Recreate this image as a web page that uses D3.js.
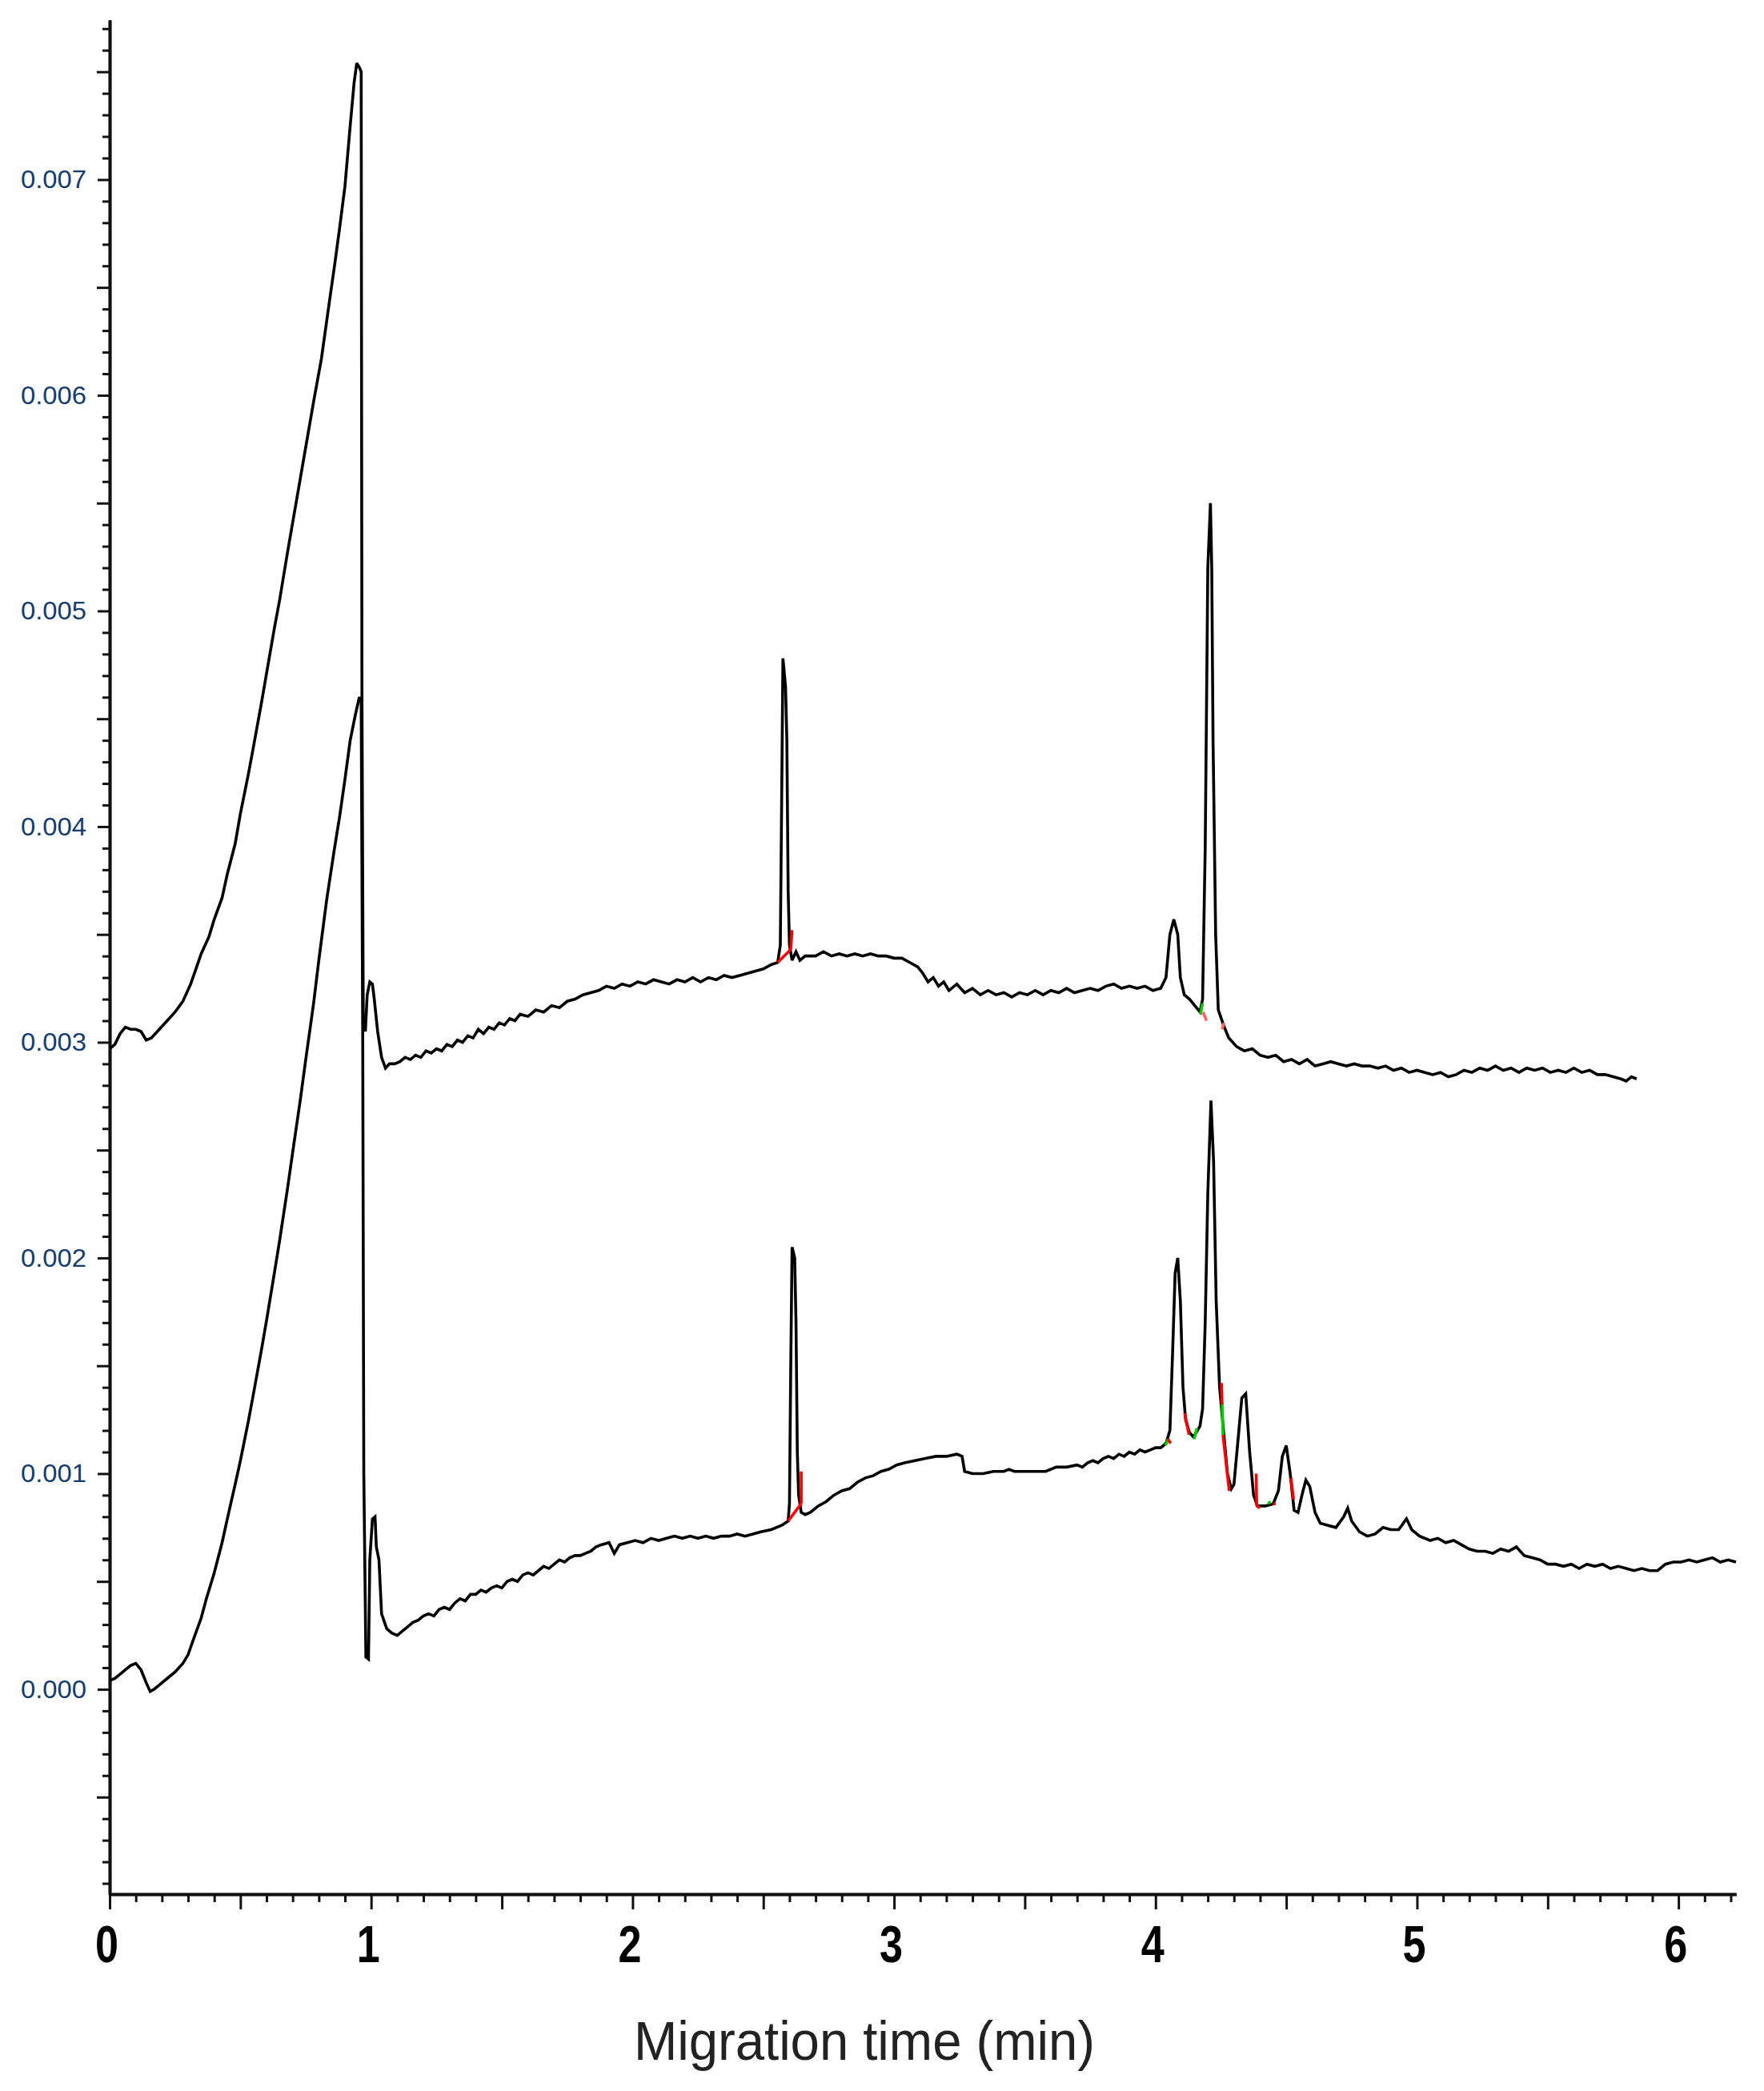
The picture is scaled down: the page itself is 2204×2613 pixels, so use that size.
<!DOCTYPE html>
<html>
<head>
<meta charset="utf-8">
<script src="https://cdn.jsdelivr.net/npm/d3@7"></script>
<style>
  html, body { margin: 0; padding: 0; background: #fff; }
  svg { display: block; }
</style>
</head>
<body>
<svg id="chart" width="2204" height="2613"></svg>
<script>
// ---------------- data (migration time in min, absorbance) ----------------
const upperTrace = [
[0.00,0.00297],[0.02,0.00299],[0.04,0.00304],[0.06,0.00307],[0.08,0.00306],[0.10,0.00306],[0.12,0.00305],
[0.14,0.00301],[0.16,0.00302],[0.19,0.00306],[0.22,0.00310],[0.25,0.00314],[0.28,0.00319],[0.31,0.00327],
[0.33,0.00334],[0.35,0.00341],[0.38,0.00349],[0.40,0.00357],[0.43,0.00367],[0.45,0.00378],[0.48,0.00392],
[0.50,0.00406],[0.53,0.00424],[0.55,0.00437],[0.58,0.00457],[0.60,0.00471],[0.63,0.00492],[0.65,0.00505],
[0.68,0.00527],[0.70,0.00541],[0.73,0.00562],[0.75,0.00576],[0.78,0.00597],[0.81,0.00617],[0.84,0.00643],
[0.86,0.00660],[0.88,0.00678],[0.90,0.00697],[0.92,0.00725],[0.935,0.00745],[0.945,0.00754],[0.955,0.00752],
[0.962,0.00750],[0.965,0.00460],[0.970,0.00310],[0.978,0.00305],[0.985,0.00322],[0.995,0.00328],[1.005,0.00327],
[1.012,0.00320],[1.025,0.00305],[1.04,0.00293],[1.055,0.00288],[1.07,0.00290],[1.09,0.00290],[1.11,0.00291],
[1.13,0.00293],[1.15,0.00292],[1.17,0.00294],[1.19,0.00293],[1.21,0.00296],[1.23,0.00295],[1.25,0.00297],
[1.27,0.00296],[1.29,0.00299],[1.31,0.00298],[1.33,0.00301],[1.35,0.00300],[1.37,0.00303],[1.39,0.00302],
[1.41,0.00306],[1.43,0.00304],[1.45,0.00307],[1.47,0.00306],[1.49,0.00309],[1.51,0.00308],[1.53,0.00311],
[1.55,0.00310],[1.57,0.00313],[1.60,0.00312],[1.63,0.00315],[1.66,0.00314],[1.69,0.00317],[1.72,0.00316],
[1.75,0.00319],[1.78,0.00320],[1.81,0.00322],[1.84,0.00323],[1.87,0.00324],[1.90,0.00326],[1.93,0.00325],
[1.96,0.00327],[1.99,0.00326],[2.02,0.00328],[2.05,0.00327],[2.08,0.00329],[2.11,0.00328],[2.14,0.00327],
[2.17,0.00329],[2.20,0.00328],[2.23,0.00330],[2.26,0.00328],[2.29,0.00330],[2.32,0.00329],[2.35,0.00331],
[2.38,0.00330],[2.41,0.00331],[2.44,0.00332],[2.47,0.00333],[2.50,0.00334],[2.53,0.00336],[2.555,0.00337],
[2.565,0.00345],[2.570,0.00410],[2.575,0.00478],[2.585,0.00465],[2.59,0.00440],[2.595,0.00370],[2.60,0.00345],
[2.61,0.00338],[2.625,0.00342],[2.64,0.00338],[2.66,0.00340],[2.70,0.00340],[2.73,0.00342],[2.76,0.00340],
[2.79,0.00341],[2.82,0.00340],[2.85,0.00341],[2.88,0.00340],[2.91,0.00341],[2.94,0.00340],[2.97,0.00340],
[3.00,0.00339],[3.03,0.00339],[3.06,0.00337],[3.09,0.00335],[3.11,0.00332],[3.13,0.00328],[3.15,0.00330],
[3.17,0.00326],[3.19,0.00328],[3.21,0.00324],[3.24,0.00327],[3.27,0.00323],[3.30,0.00325],[3.33,0.00322],
[3.36,0.00324],[3.39,0.00322],[3.42,0.00323],[3.45,0.00321],[3.48,0.00323],[3.51,0.00322],[3.54,0.00324],
[3.57,0.00322],[3.60,0.00324],[3.63,0.00323],[3.66,0.00325],[3.69,0.00323],[3.72,0.00324],[3.75,0.00325],
[3.78,0.00324],[3.81,0.00326],[3.84,0.00327],[3.87,0.00325],[3.90,0.00326],[3.93,0.00325],[3.96,0.00326],
[3.99,0.00324],[4.02,0.00325],[4.04,0.00330],[4.055,0.00350],[4.07,0.00357],[4.085,0.00350],[4.095,0.00330],
[4.11,0.00322],[4.13,0.00320],[4.15,0.00317],[4.17,0.00314],[4.18,0.00320],[4.19,0.00390],[4.20,0.00520],
[4.21,0.00550],[4.215,0.00520],[4.22,0.00440],[4.23,0.00350],[4.24,0.00315],[4.26,0.00308],[4.28,0.00302],
[4.31,0.00298],[4.34,0.00296],[4.37,0.00297],[4.40,0.00294],[4.43,0.00293],[4.46,0.00294],[4.49,0.00291],
[4.52,0.00292],[4.55,0.00290],[4.58,0.00292],[4.61,0.00289],[4.64,0.00290],[4.67,0.00291],[4.70,0.00290],
[4.73,0.00289],[4.76,0.00290],[4.79,0.00289],[4.82,0.00289],[4.85,0.00288],[4.88,0.00289],[4.91,0.00287],
[4.94,0.00288],[4.97,0.00286],[5.00,0.00287],[5.03,0.00286],[5.06,0.00285],[5.09,0.00286],[5.12,0.00284],
[5.15,0.00285],[5.18,0.00287],[5.21,0.00286],[5.24,0.00288],[5.27,0.00287],[5.30,0.00289],[5.33,0.00287],
[5.36,0.00288],[5.39,0.00286],[5.42,0.00288],[5.45,0.00287],[5.48,0.00288],[5.51,0.00286],[5.54,0.00287],
[5.57,0.00286],[5.60,0.00288],[5.63,0.00286],[5.66,0.00287],[5.69,0.00285],[5.72,0.00285],[5.75,0.00284],
[5.78,0.00283],[5.80,0.00282],[5.82,0.00284],[5.84,0.00283]
];

const lowerTrace = [
[0.00,0.00004],[0.02,0.00005],[0.04,0.00007],[0.06,0.00009],[0.08,0.00011],[0.10,0.00012],[0.12,0.00009],
[0.14,0.00003],[0.155,-0.00001],[0.17,0.00000],[0.19,0.00002],[0.22,0.00005],[0.25,0.00008],[0.28,0.00012],
[0.30,0.00016],[0.32,0.00023],[0.35,0.00033],[0.37,0.00042],[0.40,0.00054],[0.43,0.00068],[0.45,0.00079],
[0.48,0.00095],[0.50,0.00106],[0.53,0.00124],[0.55,0.00137],[0.58,0.00157],[0.60,0.00171],[0.63,0.00193],
[0.65,0.00208],[0.68,0.00232],[0.70,0.00249],[0.73,0.00274],[0.75,0.00292],[0.78,0.00318],[0.80,0.00338],
[0.83,0.00366],[0.86,0.00390],[0.88,0.00405],[0.90,0.00422],[0.92,0.00440],[0.94,0.00452],[0.955,0.00460],
[0.962,0.00458],[0.968,0.00300],[0.972,0.00100],[0.980,0.00015],[0.99,0.00014],[0.995,0.00060],[1.005,0.00079],
[1.015,0.00080],[1.02,0.00066],[1.03,0.00060],[1.04,0.00035],[1.06,0.00028],[1.08,0.00026],[1.10,0.00025],
[1.12,0.00027],[1.14,0.00029],[1.16,0.00031],[1.18,0.00032],[1.20,0.00034],[1.22,0.00035],[1.24,0.00034],
[1.26,0.00037],[1.28,0.00038],[1.30,0.00037],[1.32,0.00040],[1.34,0.00042],[1.36,0.00041],[1.38,0.00044],
[1.40,0.00044],[1.42,0.00046],[1.44,0.00045],[1.46,0.00047],[1.48,0.00048],[1.50,0.00047],[1.52,0.00050],
[1.54,0.00051],[1.56,0.00050],[1.58,0.00053],[1.60,0.00054],[1.62,0.00053],[1.64,0.00055],[1.66,0.00057],
[1.68,0.00056],[1.70,0.00058],[1.72,0.00060],[1.74,0.00059],[1.76,0.00061],[1.78,0.00062],[1.80,0.00062],
[1.82,0.00063],[1.84,0.00064],[1.86,0.00066],[1.88,0.00067],[1.91,0.00068],[1.93,0.00063],[1.95,0.00067],
[1.98,0.00068],[2.01,0.00069],[2.04,0.00068],[2.07,0.00070],[2.10,0.00069],[2.13,0.00070],[2.16,0.00071],
[2.19,0.00070],[2.22,0.00071],[2.25,0.00070],[2.28,0.00071],[2.31,0.00070],[2.34,0.00071],[2.37,0.00071],
[2.40,0.00072],[2.43,0.00071],[2.46,0.00072],[2.49,0.00073],[2.53,0.00074],[2.57,0.00076],[2.595,0.00078],
[2.60,0.00086],[2.605,0.00150],[2.61,0.00205],[2.62,0.00200],[2.625,0.00170],[2.63,0.00110],[2.635,0.00090],
[2.645,0.00082],[2.66,0.00081],[2.68,0.00082],[2.71,0.00085],[2.74,0.00087],[2.77,0.00090],[2.80,0.00092],
[2.83,0.00093],[2.86,0.00096],[2.89,0.00098],[2.92,0.00099],[2.95,0.00101],[2.98,0.00102],[3.01,0.00104],
[3.04,0.00105],[3.08,0.00106],[3.12,0.00107],[3.16,0.00108],[3.20,0.00108],[3.24,0.00109],[3.26,0.00108],
[3.27,0.00101],[3.30,0.00100],[3.34,0.00100],[3.38,0.00101],[3.42,0.00101],[3.44,0.00102],[3.46,0.00101],
[3.50,0.00101],[3.54,0.00101],[3.58,0.00101],[3.62,0.00103],[3.66,0.00103],[3.70,0.00104],[3.72,0.00103],
[3.74,0.00105],[3.76,0.00106],[3.78,0.00105],[3.80,0.00107],[3.82,0.00108],[3.84,0.00107],[3.86,0.00109],
[3.88,0.00108],[3.90,0.00110],[3.92,0.00109],[3.94,0.00111],[3.96,0.00110],[3.98,0.00111],[4.00,0.00112],
[4.02,0.00112],[4.04,0.00114],[4.055,0.00120],[4.065,0.00155],[4.075,0.00193],[4.085,0.00200],[4.095,0.00180],
[4.105,0.00140],[4.115,0.00125],[4.13,0.00119],[4.145,0.00117],[4.16,0.00120],[4.17,0.00122],[4.18,0.00130],
[4.19,0.00170],[4.20,0.00230],[4.212,0.00273],[4.222,0.00245],[4.232,0.00180],[4.245,0.00140],[4.26,0.00120],
[4.275,0.00100],[4.29,0.00093],[4.30,0.00095],[4.315,0.00115],[4.33,0.00135],[4.345,0.00137],[4.36,0.00110],
[4.375,0.00090],[4.39,0.00085],[4.42,0.00085],[4.45,0.00086],[4.47,0.00092],[4.485,0.00108],[4.50,0.00113],
[4.515,0.00100],[4.53,0.00083],[4.545,0.00082],[4.56,0.00090],[4.575,0.00097],[4.59,0.00094],[4.61,0.00082],
[4.63,0.00077],[4.66,0.00076],[4.69,0.00075],[4.72,0.00080],[4.735,0.00084],[4.75,0.00078],[4.78,0.00073],
[4.81,0.00071],[4.84,0.00072],[4.87,0.00075],[4.90,0.00074],[4.93,0.00074],[4.96,0.00079],[4.98,0.00074],
[5.01,0.00071],[5.05,0.00069],[5.08,0.00070],[5.11,0.00068],[5.14,0.00069],[5.17,0.00067],[5.20,0.00065],
[5.23,0.00064],[5.26,0.00064],[5.29,0.00063],[5.32,0.00065],[5.35,0.00064],[5.38,0.00066],[5.41,0.00062],
[5.44,0.00061],[5.47,0.00060],[5.50,0.00058],[5.53,0.00058],[5.56,0.00057],[5.59,0.00058],[5.62,0.00056],
[5.65,0.00058],[5.68,0.00057],[5.71,0.00058],[5.74,0.00056],[5.77,0.00057],[5.80,0.00056],[5.83,0.00055],
[5.86,0.00056],[5.89,0.00055],[5.92,0.00055],[5.95,0.00058],[5.98,0.00059],[6.01,0.00059],[6.04,0.00060],
[6.07,0.00059],[6.10,0.00060],[6.13,0.00061],[6.16,0.00059],[6.19,0.00060],[6.22,0.00059]
];

// integration markers: [t1, v1, t2, v2, colour]
const peakMarks = [
[2.555,0.00337,2.605,0.00343,"#ff0000"],[2.605,0.00343,2.61,0.00352,"#ff0000"],
[4.172,0.00313,4.18,0.00318,"#00d000"],[4.182,0.00314,4.195,0.00310,"#ff6060"],[4.255,0.00306,4.262,0.00309,"#ff6060"],
[2.595,0.00078,2.645,0.00086,"#ff0000"],[2.645,0.00086,2.645,0.00101,"#ff0000"],
[4.038,0.00113,4.048,0.00116,"#00d000"],[4.048,0.00116,4.058,0.00114,"#ff0000"],
[4.112,0.00128,4.128,0.00118,"#ff0000"],[4.148,0.00116,4.158,0.00121,"#00d000"],
[4.252,0.00142,4.255,0.00132,"#ff0000"],[4.255,0.00132,4.258,0.00118,"#00d000"],[4.258,0.00118,4.282,0.00092,"#ff0000"],
[4.385,0.00100,4.387,0.00085,"#ff0000"],[4.387,0.00085,4.40,0.00084,"#ff0000"],
[4.43,0.00086,4.44,0.00087,"#00d000"],[4.45,0.00086,4.46,0.00086,"#ff0000"],
[4.518,0.00098,4.528,0.00088,"#ff0000"]
];

const yTickValues = [0.000, 0.001, 0.002, 0.003, 0.004, 0.005, 0.006, 0.007];
const yTickLabels = ["0.000", "0.001", "0.002", "0.003", "0.004", "0.005", "0.006", "0.007"];
const xTickValues = [0, 1, 2, 3, 4, 5, 6];
const xTickLabels = ["0", "1", "2", "3", "4", "5", "6"];
const xTitle = "Migration time (min)";

// ---------------- layout ----------------
const svg = d3.select("#chart");
const x = d3.scaleLinear().domain([0, 6.22]).range([137, 2169]);
const y = d3.scaleLinear().domain([-0.00095, 0.00774]).range([2367, 25]);

const yMinor = d3.range(-9, 78).map(i => i / 10000).filter(v => Math.abs(Math.round(v * 2000) - v * 2000) > 1e-6);
const yMedium = d3.range(-9, 78).map(i => i / 10000).filter(v => Math.abs(Math.round(v * 2000) - v * 2000) < 1e-6 && Math.abs(Math.round(v * 1000) - v * 1000) > 1e-6);
const xMinor = d3.range(0, 63).map(i => i / 10).filter(v => Math.abs(Math.round(v * 2) - v * 2) > 1e-6);
const xMedium = d3.range(0, 63).map(i => i / 10).filter(v => Math.abs(Math.round(v * 2) - v * 2) < 1e-6 && Math.abs(Math.round(v) - v) > 1e-6);

function styleAxis(g) {
  g.selectAll("path.domain").attr("stroke", "#111").attr("stroke-width", 3.5);
  g.selectAll(".tick line").attr("stroke", "#111").attr("stroke-width", 3);
}

// Y axis
const yAxisG = svg.append("g").attr("transform", `translate(${x(0)},0)`);
yAxisG.append("g").call(d3.axisLeft(y).tickValues(yMinor).tickSize(9).tickSizeOuter(0).tickFormat("")).call(styleAxis);
yAxisG.append("g").call(d3.axisLeft(y).tickValues(yMedium).tickSize(16).tickSizeOuter(0).tickFormat("")).call(styleAxis);
const yMajorG = yAxisG.append("g")
  .call(d3.axisLeft(y).tickValues(yTickValues).tickSize(15).tickSizeOuter(0).tickPadding(14)
    .tickFormat((d, i) => yTickLabels[i]))
  .call(styleAxis);
yMajorG.selectAll(".tick text")
  .attr("font-family", "'Liberation Sans', Arial, sans-serif")
  .attr("font-size", 32)
  .attr("fill", "#143c6e")
  .attr("textLength", 82)
  .attr("lengthAdjust", "spacingAndGlyphs");

// X axis
const xAxisG = svg.append("g").attr("transform", `translate(0,${y(-0.00095)})`);
xAxisG.append("g").call(d3.axisBottom(x).tickValues(xMinor).tickSize(10).tickSizeOuter(0).tickFormat("")).call(styleAxis);
xAxisG.append("g").call(d3.axisBottom(x).tickValues(xMedium).tickSize(19).tickSizeOuter(0).tickFormat("")).call(styleAxis);
const xMajorG = xAxisG.append("g")
  .call(d3.axisBottom(x).tickValues(xTickValues).tickSize(19).tickSizeOuter(0).tickPadding(21)
    .tickFormat((d, i) => xTickLabels[i]))
  .call(styleAxis);
xMajorG.selectAll(".tick text")
  .attr("font-family", "'Liberation Sans', Arial, sans-serif")
  .attr("font-weight", "bold")
  .attr("font-size", 64)
  .attr("fill", "#000")
  .attr("dx", -4)
  .attr("textLength", 29)
  .attr("lengthAdjust", "spacingAndGlyphs");

// X title
svg.append("text")
  .attr("x", 1080).attr("y", 2574)
  .attr("text-anchor", "middle")
  .attr("font-family", "'Liberation Sans', Arial, sans-serif")
  .attr("font-size", 68)
  .attr("fill", "#222")
  .attr("textLength", 576)
  .attr("lengthAdjust", "spacingAndGlyphs")
  .text(xTitle);

// traces
const line = d3.line().x(d => x(d[0])).y(d => y(d[1]));
[upperTrace, lowerTrace].forEach(tr => {
  svg.append("path").datum(tr)
    .attr("d", line)
    .attr("fill", "none")
    .attr("stroke", "#000")
    .attr("stroke-width", 3.6)
    .attr("stroke-linejoin", "miter")
    .attr("stroke-miterlimit", 3);
});

// integration markers
svg.append("g").selectAll("line").data(peakMarks).join("line")
  .attr("x1", d => x(d[0])).attr("y1", d => y(d[1]))
  .attr("x2", d => x(d[2])).attr("y2", d => y(d[3]))
  .attr("stroke", d => d[4]).attr("stroke-width", 3.6);
</script>
</body>
</html>
